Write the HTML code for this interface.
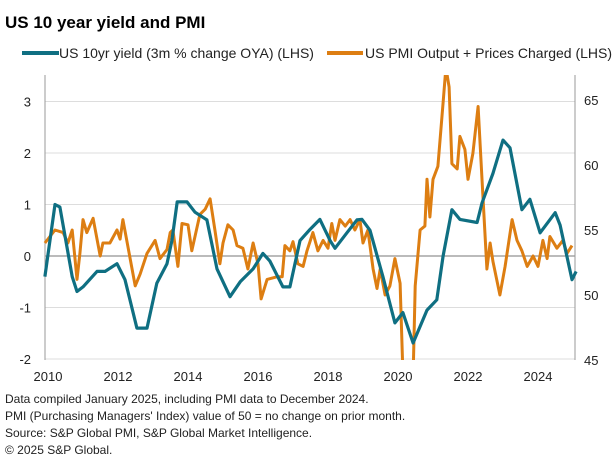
<!DOCTYPE html>
<html><head><meta charset="utf-8"><style>
body{margin:0;background:#fff;font-family:"Liberation Sans",Arial,sans-serif;}
svg{display:block}
</style></head><body>
<svg id="chart" width="614" height="461" viewBox="0 0 614 461" font-family="Liberation Sans, Arial, sans-serif">
<text x="5" y="28" font-size="17" font-weight="bold" fill="#000">US 10 year yield and PMI</text>
<g>
<line x1="22" y1="53" x2="59" y2="53" stroke="#0f6f82" stroke-width="4"/>
<text x="59" y="58" font-size="14" fill="#222">US 10yr yield (3m % change OYA) (LHS)</text>
<line x1="327" y1="53" x2="363" y2="53" stroke="#dd7e12" stroke-width="4"/>
<text x="365" y="58" font-size="14" fill="#222">US PMI Output + Prices Charged (LHS)</text>
</g>
<g id="grid"></g>
<g id="axes"></g>
<g id="series"></g>
<g font-size="12" fill="#222">
<text x="5" y="403">Data compiled January 2025, including PMI data to December 2024.</text>
<text x="5" y="420">PMI (Purchasing Managers' Index) value of 50 = no change on prior month.</text>
<text x="5" y="437">Source: S&amp;P Global PMI, S&amp;P Global Market Intelligence.</text>
<text x="5" y="454">© 2025 S&amp;P Global.</text>
</g>
</svg>
<script>
const yieldDates=[2009.91,2010.20,2010.34,2010.69,2010.83,2011.00,2011.40,2011.63,2011.97,2012.20,2012.54,2012.83,2013.11,2013.40,2013.54,2013.69,2013.97,2014.20,2014.54,2014.83,2015.20,2015.49,2015.86,2016.14,2016.34,2016.71,2016.91,2017.20,2017.49,2017.77,2018.06,2018.20,2018.54,2018.83,2018.97,2019.20,2019.57,2019.91,2020.14,2020.43,2020.83,2021.11,2021.29,2021.54,2021.77,2022.26,2022.40,2022.71,2023.00,2023.20,2023.54,2023.77,2024.06,2024.49,2024.63,2024.97,2025.09];
const yieldValues=[-0.4,1.0,0.95,-0.4,-0.69,-0.6,-0.3,-0.3,-0.15,-0.46,-1.4,-1.4,-0.53,-0.15,0.3,1.05,1.05,0.85,0.7,-0.25,-0.79,-0.5,-0.25,0.05,-0.1,-0.6,-0.6,0.3,0.52,0.71,0.3,0.15,0.45,0.7,0.71,0.5,-0.4,-1.3,-1.1,-1.69,-1.05,-0.85,0.0,0.9,0.71,0.65,1.03,1.6,2.25,2.1,0.9,1.1,0.45,0.84,0.6,-0.46,-0.3];
const pmiDates=[2009.91,2010.20,2010.43,2010.57,2010.69,2010.83,2010.91,2011.00,2011.11,2011.29,2011.49,2011.57,2011.77,2011.97,2012.06,2012.14,2012.34,2012.49,2012.63,2012.83,2013.06,2013.20,2013.40,2013.49,2013.57,2013.71,2013.83,2014.00,2014.11,2014.34,2014.49,2014.63,2014.77,2014.91,2015.00,2015.14,2015.29,2015.40,2015.57,2015.71,2015.86,2016.00,2016.09,2016.26,2016.54,2016.69,2016.77,2016.91,2017.00,2017.14,2017.29,2017.40,2017.57,2017.71,2017.86,2018.00,2018.11,2018.20,2018.34,2018.49,2018.63,2018.77,2018.91,2019.00,2019.14,2019.29,2019.40,2019.49,2019.63,2019.77,2019.91,2020.06,2020.14,2020.26,2020.40,2020.49,2020.63,2020.77,2020.83,2020.91,2021.00,2021.14,2021.29,2021.37,2021.46,2021.54,2021.69,2021.77,2021.91,2022.00,2022.14,2022.29,2022.40,2022.54,2022.63,2022.71,2022.91,2023.06,2023.26,2023.40,2023.54,2023.69,2023.86,2024.00,2024.14,2024.26,2024.34,2024.54,2024.71,2024.83,2024.97];
const pmiValues=[54.0,55.0,54.8,54.0,55.0,51.2,53.2,55.8,54.8,55.9,53.0,54.0,54.0,55.0,54.3,55.8,52.9,50.7,51.6,53.2,54.2,52.8,53.5,54.8,55.0,52.2,55.5,55.4,53.4,56.2,56.6,57.4,55.0,52.4,54.0,55.4,55.0,53.8,53.6,52.0,54.0,52.4,49.7,51.2,51.4,51.4,53.8,53.4,54.1,52.4,52.2,53.4,54.8,53.4,54.2,53.6,55.5,54.2,55.8,55.3,55.8,55.0,55.8,54.0,55.0,52.0,50.5,52.0,50.0,50.7,52.8,50.9,44,36,40,50.7,55.0,55.3,58.9,56.0,58.9,59.9,64.8,67.5,66,60.1,59.7,62.2,61.2,58.9,60.9,64.5,58.9,52.0,54.0,52.6,50.0,52.2,55.8,54.2,53.4,52.2,53.0,52.2,54.2,52.8,54.5,53.6,54.2,53.2,53.8];
const leftTicks=[3,2,1,0,-1,-2];
const rightTicks=[65,60,55,50,45];
const xTicks=[2010,2012,2014,2016,2018,2020,2022,2024];

const NS="http://www.w3.org/2000/svg";
const PL=45,PR=575,PT=75,PB=360;
const xS=y=>48+(y-2010)*35;
const yL=v=>256-v*51.5;
const yR=v=>100+(65-v)*13;
function mk(tag,attrs,parent){const e=document.createElementNS(NS,tag);for(const k in attrs)e.setAttribute(k,attrs[k]);parent.appendChild(e);return e;}
const grid=document.getElementById('grid'),axes=document.getElementById('axes'),series=document.getElementById('series');
leftTicks.forEach(t=>{
  const l=mk('line',{x1:PL,x2:PR,y1:yL(t),y2:yL(t),stroke:t===0?'#777':'#ddd','stroke-width':1},grid);
  
  
  const tx=mk('text',{x:31,y:yL(t)+5,'text-anchor':'end','font-size':13,fill:'#222'},axes);
  tx.textContent=String(t);
  
  
});
rightTicks.forEach(t=>{
  const tx=mk('text',{x:584,y:yR(t)+5,'font-size':13,fill:'#222'},axes);
  tx.textContent=String(t);
  
  
});
xTicks.forEach(t=>{
  const tx=mk('text',{x:xS(t),y:381,'text-anchor':'middle','font-size':13,fill:'#222'},axes);
  tx.textContent=String(t);
  
  
});
const la=mk('line',{x1:PL,x2:PL,y1:PT,y2:PB,stroke:'#999','stroke-width':1},axes);


const ra=mk('line',{x1:PR,x2:PR,y1:PT,y2:PB,stroke:'#999','stroke-width':1},axes);


const defs=mk('defs',{},series);
const cp=mk('clipPath',{id:'clip'},defs);
mk('rect',{x:PL-5,y:PT,width:PR-PL+10,height:PB-PT},cp);
const pmiPts=pmiDates.map((d,i)=>xS(d).toFixed(1)+','+yR(pmiValues[i]).toFixed(1)).join(' ');
const pp=mk('polyline',{points:pmiPts,fill:'none',stroke:'#dd7e12','stroke-width':3,'stroke-linejoin':'round','clip-path':'url(#clip)'},series);


const yPts=yieldDates.map((d,i)=>xS(d).toFixed(1)+','+yL(yieldValues[i]).toFixed(1)).join(' ');
const yp=mk('polyline',{points:yPts,fill:'none',stroke:'#0f6f82','stroke-width':3.2,'stroke-linejoin':'round','clip-path':'url(#clip)'},series);


</script>
</body></html>
